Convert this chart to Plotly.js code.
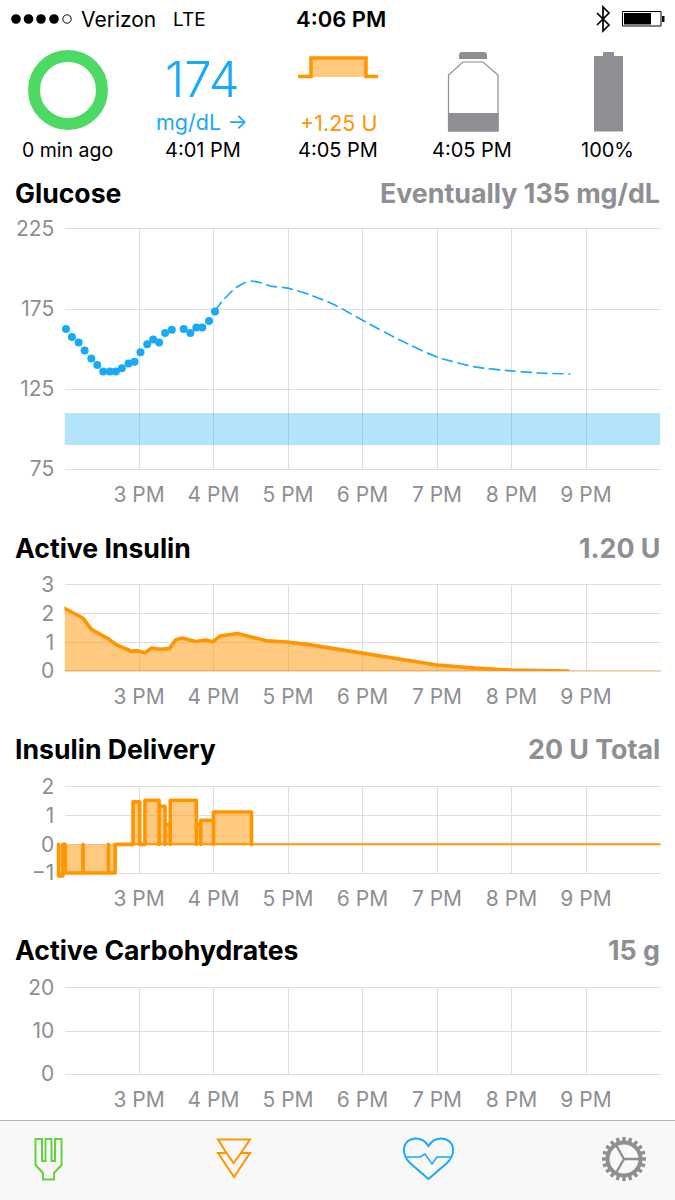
<!DOCTYPE html>
<html>
<head>
<meta charset="utf-8">
<script src="https://cdn.plot.ly/plotly-3.0.1.min.js"></script>
<style>html,body{margin:0;padding:0;background:#fff}#chart{width:675px;height:1200px}
.scatterlayer .js-line{stroke-linejoin:round;stroke-linecap:round}</style>
</head>
<body>
<div id="chart"></div>
<script>
// ---------- data ----------
const hourTicks = [15, 16, 17, 18, 19, 20, 21];
const hourLabels = ['3 PM', '4 PM', '5 PM', '6 PM', '7 PM', '8 PM', '9 PM'];

const glucoseTimes = [14.02,14.10,14.19,14.27,14.36,14.44,14.52,14.61,14.69,14.77,14.86,14.94,15.02,15.11,15.19,15.27,15.35,15.44,15.60,15.69,15.77,15.85,15.94,16.02];
const glucoseValues = [162.5,157.5,154,149,144,140,136,136,136,138,141,142,148,153,156,154,160,162,162.5,160,163.5,163.5,167.5,173.5];
const forecastTimes = [16.02,16.11,16.29,16.41,16.50,16.65,16.76,17.00,17.30,17.63,18.00,18.50,19.00,19.51,20.00,20.38,20.78];
const forecastValues = [174,179.4,188,191.3,192.5,191.3,189.4,188,183.8,177.5,168,155.6,145,138.8,136.3,135,134.4];
const targetRange = [90, 110];
const glucoseTicks = [75, 125, 175, 225];

const iobTimes = [14.00,14.25,14.36,14.59,14.70,14.90,14.98,15.08,15.17,15.28,15.41,15.49,15.58,15.76,15.90,15.99,16.09,16.32,16.72,16.99,17.28,18.00,18.50,19.00,19.50,20.00,20.76];
const iobValues = [2.19,1.84,1.45,1.12,0.91,0.69,0.71,0.64,0.80,0.76,0.78,1.08,1.15,1.03,1.08,1.02,1.22,1.31,1.05,1.01,0.92,0.63,0.42,0.21,0.10,0.03,0.00];
const iobTicks = [0, 1, 2, 3];

const deliveryStarts = [13.92,14.01,14.25,14.59,14.92,15.08,15.27,15.35,15.42,15.77,15.83,16.00];
const deliveryEnds   = [13.98,14.25,14.59,14.68,15.01,15.27,15.35,15.42,15.77,15.83,16.00,16.51];
const deliveryUnits  = [-1.1,-1,-1,-1,1.48,1.54,1.33,0.69,1.54,0.69,0.84,1.13];
const deliveryTicks = [-1, 0, 1, 2];

const carbTimes = [];
const carbValues = [];
const carbTicks = [0, 10, 20];

// ---------- helpers ----------
const W = 675, H = 1200;
const FONT = 'Inter, Roboto, "Liberation Sans", sans-serif';
const BLUE = '#1aa9f7', ORANGE = '#ff9500', GRAY = '#8e8e93', GRID = '#dedee0';
const px = x => x / W, py = y => 1 - y / H;
const domainY = (bottom, top) => [py(bottom), py(top)];
const path = d => d.replace(/(-?[\d.]+) (-?[\d.]+)/g, (m, a, b) => px(+a).toFixed(5) + ' ' + py(+b).toFixed(5));

function note(text, x, y, size, color, anchor, weight) {
  return {text, x: px(x), y: py(y), xref: 'paper', yref: 'paper', showarrow: false,
    xanchor: anchor || 'center', yanchor: 'middle', borderpad: 0,
    font: {family: FONT, size, color: color || '#000', weight: weight || 400}};
}
function pathShape(d, stroke, width, fill) {
  return {type: 'path', xref: 'paper', yref: 'paper', layer: 'above', path: path(d),
    line: {color: stroke || 'rgba(0,0,0,0)', width: width || 0}, fillcolor: fill || 'rgba(0,0,0,0)'};
}
function circle(cx, cy, r, stroke, width, fill) {
  return {type: 'circle', xref: 'paper', yref: 'paper', layer: 'above',
    x0: px(cx - r), x1: px(cx + r), y0: py(cy + r), y1: py(cy - r),
    line: {color: stroke || 'rgba(0,0,0,0)', width: width || 0}, fillcolor: fill || 'rgba(0,0,0,0)'};
}
function rectPath(x0, y0, x1, y1) { return `M${x0} ${y0} L${x1} ${y0} L${x1} ${y1} L${x0} ${y1} Z`; }

const xAxis = (anchor) => ({
  domain: [px(64.5), px(660.5)], range: [14, 22], anchor, fixedrange: true,
  tickmode: 'array', tickvals: hourTicks, ticktext: hourLabels, ticks: 'outside', ticklen: 7,
  tickcolor: 'rgba(0,0,0,0)', tickfont: {family: FONT, size: 21, color: GRAY},
  showgrid: true, gridcolor: GRID, gridwidth: 1, zeroline: false,
  showline: true, mirror: true, linecolor: GRID, linewidth: 1
});
const yAxis = (anchor, dom, range, tickvals) => ({
  domain: dom, range, anchor, fixedrange: true,
  tickmode: 'array', tickvals, ticks: 'outside', ticklen: 5, tickcolor: 'rgba(0,0,0,0)',
  tickfont: {family: FONT, size: 21, color: GRAY},
  showgrid: true, gridcolor: GRID, gridwidth: 1, zeroline: false, showline: false
});

// delivery segments become a stepped outline that returns to zero
const deliveryX = [], deliveryY = [];
deliveryStarts.forEach((s, i) => {
  deliveryX.push(s, s, deliveryEnds[i], deliveryEnds[i]);
  deliveryY.push(0, deliveryUnits[i], deliveryUnits[i], 0);
});

// ---------- traces ----------
const traces = [
  {x: glucoseTimes, y: glucoseValues, xaxis: 'x', yaxis: 'y', mode: 'markers', marker: {color: BLUE, size: 8}, cliponaxis: false},
  {x: forecastTimes, y: forecastValues, xaxis: 'x', yaxis: 'y', mode: 'lines', line: {color: BLUE, width: 1.7, dash: '10px,6px', shape: 'spline', smoothing: 0.6}},
  {x: [14, 22], y: [0, 0], xaxis: 'x2', yaxis: 'y2', mode: 'lines', line: {color: ORANGE, width: 1}},
  {x: iobTimes, y: iobValues, xaxis: 'x2', yaxis: 'y2', mode: 'lines', fill: 'tozeroy', fillcolor: 'rgba(255,149,0,0.5)', line: {color: ORANGE, width: 3.6}},
  {x: [14.68, 22], y: [0, 0], xaxis: 'x5', yaxis: 'y5', mode: 'lines', line: {color: ORANGE, width: 2}},
  {x: deliveryX, y: deliveryY, xaxis: 'x5', yaxis: 'y5', mode: 'lines', fill: 'tozeroy', fillcolor: 'rgba(255,149,0,0.5)', line: {color: ORANGE, width: 3.6}},
  {x: carbTimes, y: carbValues, xaxis: 'x4', yaxis: 'y4', mode: 'lines', line: {color: '#76d672', width: 2}},
  // an axis pair with no trace still needs a subplot to draw its grid
  {x: [], y: [], xaxis: 'x3', yaxis: 'y3', mode: 'lines'}
];

// ---------- gear teeth ----------
let gear = '';
const gearX = 624, gearY = 1159;
for (let i = 0; i < 20; i++) {
  const a = i * Math.PI / 10;
  gear += `M${(gearX + 16 * Math.cos(a)).toFixed(2)} ${(gearY + 16 * Math.sin(a)).toFixed(2)} L${(gearX + 22 * Math.cos(a)).toFixed(2)} ${(gearY + 22 * Math.sin(a)).toFixed(2)} `;
}

// ---------- chrome ----------
const shapes = [
  {type: 'rect', xref: 'paper', yref: 'paper', layer: 'below', x0: 0, x1: 1, y0: 0, y1: py(1120), fillcolor: '#f8f8f9', line: {width: 0}},
  {type: 'line', xref: 'paper', yref: 'paper', layer: 'above', x0: 0, x1: 1, y0: py(1120.5), y1: py(1120.5), line: {color: '#b4b4b4', width: 1}},
  {type: 'rect', xref: 'x', yref: 'y', layer: 'above', x0: 14, x1: 22, y0: targetRange[0], y1: targetRange[1], fillcolor: 'rgba(26,169,247,0.33)', line: {width: 0}},
  // signal dots
  circle(16, 19, 4.8, null, 0, '#000'), circle(28.5, 19, 4.8, null, 0, '#000'), circle(41, 19, 4.8, null, 0, '#000'),
  circle(54, 19, 4.8, null, 0, '#000'), circle(67, 19, 4.2, '#000', 1, '#fff'),
  // bluetooth
  pathShape('M597 13 L609 25 L603 31 L603 7 L609 13 L597 25', '#000', 1.7),
  // status battery
  pathShape(rectPath(622.5, 11.5, 661, 26), '#000', 1),
  pathShape(rectPath(624, 13, 651, 24.5), null, 0, '#000'),
  pathShape(rectPath(662, 16, 664.5, 22), null, 0, '#000'),
  // loop ring
  circle(68, 90, 34, '#4cd964', 12),
  // temp basal icon
  pathShape('M311 77 L311 58 L366 58 L366 77 Z', null, 0, 'rgba(255,149,0,0.5)'),
  pathShape('M298 76.5 L311 76.5 L311 58 L366 58 L366 76.5 L378 76.5', ORANGE, 3.5),
  // reservoir
  pathShape('M459 55 Q459 52 462 52 L484 52 Q487 52 487 55 L487 59 L459 59 Z', null, 0, GRAY),
  pathShape('M448.5 131 L448.5 75 L463 62 L483 62 L498 75 L498 131 Z', GRAY, 1.2),
  pathShape(rectPath(448, 113, 498.5, 131.5), null, 0, GRAY),
  // pump battery
  pathShape(rectPath(594, 56, 623, 131.5), null, 0, GRAY),
  pathShape(rectPath(603, 52, 614, 56), null, 0, GRAY),
  // fork
  pathShape('M35.5 1139 L35.5 1165 L43 1173 L43 1179.5 L54 1179.5 L54 1173 L61.5 1165 L61.5 1139 L55 1139 L55 1161 L51.5 1161 L51.5 1139 L45.5 1139 L45.5 1161 L42 1161 L42 1139 Z', '#62d33f', 2),
  // bolus icon
  pathShape('M218 1139.5 L250 1139.5 L241 1153 L250 1153 L234 1177 L218 1153 L226.5 1153 Z M226.5 1153 L233.5 1163 L241 1153', ORANGE, 2),
  // heart
  pathShape('M428.5 1179 L410 1163 C405 1158 404 1155 404 1150 C404 1142 410 1138.5 416 1138.5 C422 1138.5 426 1142 428.5 1146 C431 1142 435 1138.5 441 1138.5 C447 1138.5 453 1142 453 1150 C453 1155 452 1158 447 1163 Z', BLUE, 2),
  pathShape('M405 1157 L420 1157 L425 1154 L432 1164 L437 1157 L452 1157', BLUE, 1.5),
  // gear
  circle(gearX, gearY, 16.5, GRAY, 4),
  pathShape(gear, GRAY, 3.4),
  pathShape(`M${gearX} ${gearY} L${gearX + 16} ${gearY} M${gearX} ${gearY} L${gearX - 8} ${gearY - 14} M${gearX} ${gearY} L${gearX - 8} ${gearY + 14}`, GRAY, 2.4)
];

const annotations = [
  note('Verizon', 80, 19, 21, '#000', 'left'),
  note('LTE', 172, 19, 19, '#000', 'left'),
  note('4:06 PM', 340.5, 19, 22, '#000', 'center', 600),
  note('0 min ago', 67.5, 150, 19.5),
  note('174', 202.5, 80, 49, BLUE, 'center', 300),
  note('mg/dL →', 201.5, 122, 21.5, BLUE),
  note('4:01 PM', 202.5, 150, 20),
  note('+1.25 U', 338, 123, 21.5, ORANGE),
  note('4:05 PM', 337.5, 150, 20),
  note('4:05 PM', 472, 150, 20),
  note('100%', 607.5, 150, 20),
  note('Glucose', 14, 193, 26.6, '#000', 'left', 700),
  note('Eventually 135 mg/dL', 661, 193, 26.8, GRAY, 'right', 700),
  note('Active Insulin', 14, 548, 26.6, '#000', 'left', 700),
  note('1.20 U', 661, 548, 26.8, GRAY, 'right', 700),
  note('Insulin Delivery', 14, 749, 26.6, '#000', 'left', 700),
  note('20 U Total', 661, 749, 26.8, GRAY, 'right', 700),
  note('Active Carbohydrates', 14, 950, 26.6, '#000', 'left', 700),
  note('15 g', 661, 950, 26.8, GRAY, 'right', 700)
];

const layout = {
  width: W, height: H, margin: {l: 0, r: 0, t: 0, b: 0},
  paper_bgcolor: '#fff', plot_bgcolor: 'rgba(0,0,0,0)', showlegend: false,
  font: {family: FONT},
  xaxis: xAxis('y'), yaxis: yAxis('x', domainY(469, 229), [75, 225], glucoseTicks),
  xaxis2: xAxis('y2'), yaxis2: yAxis('x2', domainY(671, 585), [0, 3], iobTicks),
  xaxis3: xAxis('y3'), yaxis3: yAxis('x3', domainY(873, 787), [-1, 2], deliveryTicks),
  xaxis4: xAxis('y4'), yaxis4: yAxis('x4', domainY(1074, 988), [0, 20], carbTicks),
  // same scale as axes 3, widened so the delivery outline may overrun the plot edge as it does in the source
  xaxis5: {domain: [px(53.3), px(660.5)], range: [13.85, 22], anchor: 'y5', visible: false, fixedrange: true},
  yaxis5: {domain: domainY(879.7, 787), range: [-1.2333, 2], anchor: 'x5', visible: false, fixedrange: true},
  shapes, annotations
};

Plotly.newPlot('chart', traces, layout, {displayModeBar: false, staticPlot: true});
</script>
</body>
</html>
